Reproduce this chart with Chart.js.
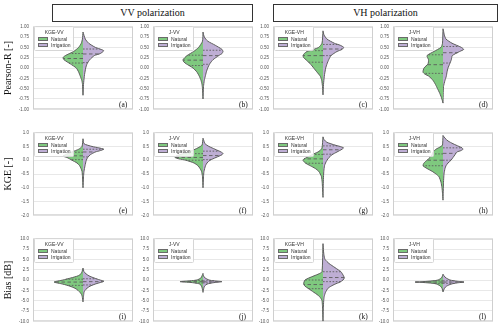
<!DOCTYPE html>
<html lang="en">
<head>
<meta charset="UTF-8">
<title>Split violins</title>
<script src="https://cdn.jsdelivr.net/npm/chart.js"></script>
<style>
  body { margin: 0; background: #fff; overflow: hidden; }
  #fig { position: relative; width: 500px; height: 333px; overflow: hidden; background: #fff; }
  #fig canvas { position: absolute; }
  .head {
    position: absolute; box-sizing: border-box; border: 1px solid #333; background: #fff;
    font: 10px "Liberation Serif", serif; color: #111; text-align: center; line-height: 16px;
  }
  .lg {
    position: absolute; box-sizing: border-box; border: 0.6px solid #d6d6d6; border-radius: 1.5px;
    background: rgba(255,255,255,0.85); padding: 1.5px 3px 2px 3px;
    font: 5px "Liberation Sans", sans-serif; color: #333;
  }
  .lg .t { text-align: center; line-height: 7px; }
  .lg .r { display: flex; align-items: center; height: 6px; white-space: nowrap; }
  .lg .p { display: block; width: 10px; height: 4px; box-sizing: border-box; border: 0.5px solid #6a6a6a; margin-right: 3px; }
  .tag { position: absolute; font: 7.5px "Liberation Serif", serif; color: #111; }
</style>
</head>
<body>
<div id="fig"></div>
<script>
// categories and series
const columnNames = ['KGE-VV', 'J-VV', 'KGE-VH', 'J-VH'];
const rowTitles = ['Pearson-R [-]', 'KGE [-]', 'Bias [dB]'];
const seriesNames = ['Natural', 'Irrigation'];
const panelTags = ['(a)', '(b)', '(c)', '(d)', '(e)', '(f)', '(g)', '(h)', '(i)', '(j)', '(k)', '(l)'];

// y axis per row
const rowMin = [-1, -2, -10];
const rowMax = [1, 1, 10];
const rowStep = [0.25, 0.5, 2.5];
const rowDecimals = [2, 1, 1];

// violin outlines: [value, half width] (x axis runs -0.5..0.5)
const natA = [[0.87,0],[0.7,0.006],[0.6,0.017],[0.5,0.043],[0.4,0.093],[0.3,0.177],[0.25,0.2],[0.2,0.19],[0.1,0.127],[0.0,0.067],[-0.1,0.043],[-0.2,0.027],[-0.3,0.012],[-0.4,0.005],[-0.66,0]];
const irrA = [[0.87,0],[0.7,0.023],[0.6,0.057],[0.5,0.123],[0.42,0.207],[0.35,0.173],[0.3,0.113],[0.2,0.067],[0.1,0.04],[0.0,0.027],[-0.2,0.013],[-0.4,0.005],[-0.66,0]];
const natB = [[0.87,0],[0.65,0.005],[0.5,0.043],[0.4,0.093],[0.3,0.16],[0.2,0.2],[0.15,0.193],[0.1,0.167],[0.0,0.1],[-0.1,0.06],[-0.2,0.037],[-0.3,0.02],[-0.4,0.01],[-0.5,0.005],[-0.75,0]];
const irrB = [[0.87,0],[0.75,0.013],[0.65,0.047],[0.55,0.123],[0.45,0.19],[0.4,0.2],[0.35,0.19],[0.3,0.157],[0.2,0.1],[0.1,0.067],[0.0,0.047],[-0.1,0.033],[-0.2,0.023],[-0.3,0.013],[-0.45,0.005],[-0.75,0]];
const natC = [[0.9,0],[0.6,0.01],[0.5,0.043],[0.45,0.093],[0.4,0.16],[0.35,0.187],[0.3,0.2],[0.25,0.193],[0.2,0.17],[0.1,0.127],[0.0,0.093],[-0.1,0.06],[-0.2,0.027],[-0.3,0.013],[-0.45,0.005],[-0.65,0]];
const irrC = [[0.9,0],[0.8,0.01],[0.7,0.04],[0.6,0.113],[0.55,0.173],[0.5,0.207],[0.45,0.19],[0.4,0.14],[0.3,0.08],[0.2,0.057],[0.1,0.04],[0.0,0.027],[-0.2,0.013],[-0.4,0.005],[-0.65,0]];
const natD = [[0.95,0],[0.6,0.005],[0.5,0.02],[0.4,0.09],[0.3,0.16],[0.2,0.145],[0.1,0.15],[0.0,0.19],[-0.1,0.2],[-0.15,0.18],[-0.2,0.14],[-0.3,0.1],[-0.4,0.075],[-0.5,0.055],[-0.6,0.035],[-0.7,0.018],[-0.8,0.005],[-0.85,0]];
const irrD = [[0.95,0],[0.9,0.005],[0.8,0.013],[0.7,0.03],[0.6,0.09],[0.5,0.183],[0.45,0.207],[0.4,0.167],[0.3,0.093],[0.2,0.083],[0.1,0.067],[0.0,0.05],[-0.1,0.04],[-0.2,0.033],[-0.3,0.02],[-0.45,0.005],[-0.85,0]];
const natE = [[0.78,0],[0.5,0.01],[0.4,0.043],[0.3,0.11],[0.2,0.177],[0.15,0.2],[0.1,0.16],[0.0,0.11],[-0.1,0.06],[-0.2,0.033],[-0.3,0.02],[-0.4,0.01],[-0.6,0.005],[-1.0,0]];
const irrE = [[0.78,0],[0.6,0.01],[0.5,0.09],[0.45,0.157],[0.4,0.207],[0.35,0.173],[0.3,0.123],[0.2,0.073],[0.1,0.047],[0.0,0.033],[-0.2,0.02],[-0.4,0.01],[-0.6,0.005],[-1.0,0]];
const natF = [[0.8,0],[0.55,0.01],[0.45,0.05],[0.35,0.11],[0.25,0.19],[0.15,0.27],[0.1,0.28],[0.05,0.24],[0.0,0.17],[-0.1,0.09],[-0.2,0.05],[-0.3,0.03],[-0.4,0.015],[-0.6,0.005],[-1.0,0]];
const irrF = [[0.8,0],[0.75,0.005],[0.6,0.02],[0.5,0.06],[0.4,0.12],[0.3,0.18],[0.25,0.2],[0.2,0.19],[0.1,0.13],[0.0,0.07],[-0.1,0.04],[-0.2,0.025],[-0.4,0.01],[-0.6,0.005],[-1.0,0]];
const natG = [[0.85,0],[0.45,0.01],[0.35,0.03],[0.3,0.05],[0.2,0.11],[0.1,0.16],[0.05,0.19],[0.0,0.2],[-0.1,0.177],[-0.2,0.127],[-0.3,0.077],[-0.4,0.043],[-0.5,0.027],[-0.6,0.015],[-0.8,0.008],[-1.0,0.005],[-1.35,0]];
const irrG = [[0.85,0],[0.75,0.01],[0.65,0.04],[0.55,0.12],[0.5,0.17],[0.45,0.205],[0.4,0.19],[0.3,0.14],[0.2,0.09],[0.1,0.06],[0.0,0.04],[-0.1,0.025],[-0.2,0.015],[-0.4,0.008],[-0.7,0.004],[-1.35,0]];
const natH = [[0.9,0],[0.55,0.005],[0.5,0.02],[0.4,0.07],[0.3,0.1],[0.2,0.11],[0.1,0.13],[0.0,0.16],[-0.1,0.19],[-0.2,0.2],[-0.3,0.16],[-0.4,0.11],[-0.5,0.07],[-0.6,0.04],[-0.8,0.02],[-1.0,0.01],[-1.2,0.005],[-1.45,0]];
const irrH = [[0.9,0],[0.8,0.02],[0.7,0.05],[0.6,0.1],[0.5,0.16],[0.45,0.19],[0.4,0.2],[0.35,0.18],[0.3,0.14],[0.2,0.12],[0.1,0.1],[0.0,0.08],[-0.1,0.05],[-0.2,0.03],[-0.3,0.02],[-0.5,0.01],[-0.8,0.005],[-1.45,0]];
const natI = [[2.9,0],[2.0,0.01],[1.5,0.02],[1.0,0.05],[0.5,0.12],[0.0,0.2],[-0.5,0.29],[-1.0,0.2],[-1.5,0.13],[-2.0,0.08],[-2.5,0.05],[-3.0,0.03],[-3.5,0.015],[-4.0,0.008],[-5.3,0]];
const irrI = [[2.9,0],[2.0,0.01],[1.5,0.03],[1.0,0.06],[0.5,0.11],[0.0,0.17],[-0.3,0.21],[-0.7,0.16],[-1.0,0.12],[-1.5,0.07],[-2.0,0.04],[-2.5,0.02],[-3.0,0.01],[-4.0,0.005],[-5.3,0]];
const natJ = [[1.6,0],[1.0,0.01],[0.5,0.02],[0.0,0.06],[-0.2,0.13],[-0.4,0.23],[-0.6,0.12],[-0.8,0.06],[-1.0,0.03],[-1.5,0.015],[-2.0,0.008],[-3.0,0]];
const irrJ = [[1.6,0],[1.0,0.005],[0.5,0.02],[0.0,0.06],[-0.2,0.11],[-0.4,0.19],[-0.6,0.12],[-0.8,0.07],[-1.0,0.04],[-1.5,0.015],[-2.0,0.008],[-3.0,0]];
const natK = [[8.8,0],[2.0,0.01],[1.5,0.04],[1.0,0.09],[0.5,0.14],[0.0,0.18],[-0.5,0.19],[-1.0,0.193],[-1.5,0.18],[-2.0,0.15],[-2.5,0.12],[-3.0,0.09],[-3.5,0.06],[-4.0,0.035],[-4.5,0.02],[-5.0,0.01],[-6.0,0.006],[-7.0,0.004],[-8.0,0.003],[-10,0]];
const irrK = [[8.8,0],[7.0,0.005],[6.0,0.01],[5.0,0.02],[4.0,0.06],[3.0,0.12],[2.5,0.15],[2.0,0.18],[1.0,0.205],[0.5,0.213],[0.0,0.2],[-0.5,0.17],[-1.0,0.12],[-1.5,0.08],[-2.0,0.05],[-3.0,0.025],[-4.0,0.012],[-5.0,0.007],[-7.0,0.003],[-10,0]];
const natL = [[1.4,0],[1.0,0.005],[0.5,0.015],[0.0,0.05],[-0.2,0.1],[-0.4,0.2],[-0.5,0.28],[-0.6,0.2],[-0.8,0.1],[-1.0,0.06],[-1.5,0.025],[-2.0,0.01],[-2.9,0]];
const irrL = [[1.4,0],[1.0,0.01],[0.5,0.03],[0.0,0.07],[-0.3,0.14],[-0.5,0.21],[-0.7,0.14],[-1.0,0.08],[-1.5,0.035],[-2.0,0.015],[-2.9,0]];

// quartiles [q1, median, q3]
const qNat = [[0.12,0.23,0.35],[0.06,0.19,0.31],[0.14,0.30,0.42],[-0.13,0.08,0.32],
              [0.02,0.16,0.29],[0.0,0.10,0.24],[-0.11,0.05,0.21],[-0.20,0.0,0.23],
              [-1.3,-0.5,0.2],[-0.7,-0.4,-0.1],[-2.1,-1.1,0.0],[-0.8,-0.5,-0.2]];
const qIrr = [[0.13,0.34,0.46],[0.09,0.30,0.43],[0.30,0.46,0.57],[0.12,0.37,0.52],
              [0.12,0.30,0.40],[0.02,0.17,0.33],[0.22,0.38,0.52],[0.0,0.25,0.45],
              [-1.2,-0.4,0.3],[-0.7,-0.45,-0.2],[-0.4,0.6,2.0],[-0.8,-0.5,-0.2]];

const natural = [natA, natB, natC, natD, natE, natF, natG, natH, natI, natJ, natK, natL];
const irrigation = [irrA, irrB, irrC, irrD, irrE, irrF, irrG, irrH, irrI, irrJ, irrK, irrL];

const GREEN = '#7fc97f';
const PURPLE = '#beaed4';
const EDGE = '#5c5c5c';

// layout (px)
const colLeft = [33, 153, 273, 393];
const rowTop = [24, 130, 236];
const PW = 100, PH = 88;

const fig = document.getElementById('fig');

function half(profile, sign) {
  return profile.map(p => ({ x: sign * p[1], y: p[0] }));
}
// half width of the outline at value q (to end the quartile dash on the edge)
function widthAt(profile, q) {
  for (let i = 0; i < profile.length - 1; i++) {
    const [v0, w0] = profile[i], [v1, w1] = profile[i + 1];
    if ((q <= v0 && q >= v1)) {
      const t = v0 === v1 ? 0 : (v0 - q) / (v0 - v1);
      return w0 + t * (w1 - w0);
    }
  }
  return 0;
}
function quartileSets(profile, qs, sign) {
  return qs.map((q, k) => ({
    data: [{ x: 0, y: q }, { x: sign * widthAt(profile, q), y: q }],
    showLine: true, borderColor: EDGE, borderWidth: 0.9,
    borderDash: k === 1 ? [3.5, 2.5] : [1.6, 1.6],
    pointRadius: 0, fill: false, order: 0, label: ''
  }));
}

const framePlugin = {
  id: 'frame',
  beforeDatasetsDraw(chart) {
    const a = chart.chartArea, ctx = chart.ctx;
    ctx.save();
    ctx.strokeStyle = '#cfcfcf';
    ctx.lineWidth = 1;
    ctx.strokeRect(a.left + 0.5, a.top + 0.5, a.right - a.left - 1, a.bottom - a.top - 1);
    ctx.restore();
  }
};

for (let r = 0; r < 3; r++) {
  for (let c = 0; c < 4; c++) {
    const i = r * 4 + c;
    const canvasLeft = c === 0 ? 0 : colLeft[c] - 20;
    const axisW = colLeft[c] - canvasLeft;
    const cv = document.createElement('canvas');
    cv.width = axisW + PW + 1;
    cv.height = PH + 8;
    cv.style.left = canvasLeft + 'px';
    cv.style.top = (rowTop[r] - 4) + 'px';
    fig.appendChild(cv);

    const datasets = [
      { label: seriesNames[0], data: half(natural[i], -1), showLine: true, fill: 'shape',
        backgroundColor: GREEN, borderColor: EDGE, borderWidth: 1, pointRadius: 0, tension: 0.2, order: 1 },
      { label: seriesNames[1], data: half(irrigation[i], 1), showLine: true, fill: 'shape',
        backgroundColor: PURPLE, borderColor: EDGE, borderWidth: 1, pointRadius: 0, tension: 0.2, order: 1 },
      ...quartileSets(natural[i], qNat[i], -1),
      ...quartileSets(irrigation[i], qIrr[i], 1)
    ];

    new Chart(cv, {
      type: 'scatter',
      data: { datasets },
      options: {
        responsive: false, animation: false, events: [], devicePixelRatio: 1,
        layout: { padding: { top: 4, bottom: 4, left: 0, right: 1 } },
        plugins: { legend: { display: false }, tooltip: { enabled: false } },
        scales: {
          x: { type: 'linear', min: -0.5, max: 0.5, display: false },
          y: {
            type: 'linear', min: rowMin[r], max: rowMax[r],
            afterFit: s => { s.width = axisW; },
            border: { display: false },
            grid: { color: '#e2e2e2', lineWidth: 0.8, drawTicks: false },
            ticks: {
              stepSize: rowStep[r], autoSkip: false, padding: 4, color: '#555',
              font: { family: 'Liberation Sans', size: 4.5 },
              callback: v => Number(v).toFixed(rowDecimals[r])
            },
            title: {
              display: c === 0, text: rowTitles[r], color: '#111',
              font: { family: 'Liberation Serif', size: 10 }, padding: { top: 2, bottom: 0 }
            }
          }
        }
      },
      plugins: [framePlugin]
    });

    // legend (html)
    const lg = document.createElement('div');
    lg.className = 'lg';
    lg.style.left = (colLeft[c] + 1) + 'px';
    lg.style.top = (rowTop[r] + 2) + 'px';
    let html = '<div class="t">' + columnNames[c] + '</div>';
    [GREEN, PURPLE].forEach((col, k) => {
      html += '<div class="r"><span class="p" style="background:' + col + '"></span>' + seriesNames[k] + '</div>';
    });
    lg.innerHTML = html;
    fig.appendChild(lg);

    const tag = document.createElement('div');
    tag.className = 'tag';
    tag.textContent = panelTags[i];
    tag.style.left = (colLeft[c] + PW - 14) + 'px';
    tag.style.top = (rowTop[r] + PH - 12) + 'px';
    fig.appendChild(tag);
  }
}

// polarization headers
[['VV polarization', 52, 201], ['VH polarization', 273, 225]].forEach(h => {
  const d = document.createElement('div');
  d.className = 'head';
  d.textContent = h[0];
  d.style.left = h[1] + 'px';
  d.style.top = '4px';
  d.style.width = h[2] + 'px';
  d.style.height = '18px';
  fig.appendChild(d);
});
</script>
</body>
</html>
